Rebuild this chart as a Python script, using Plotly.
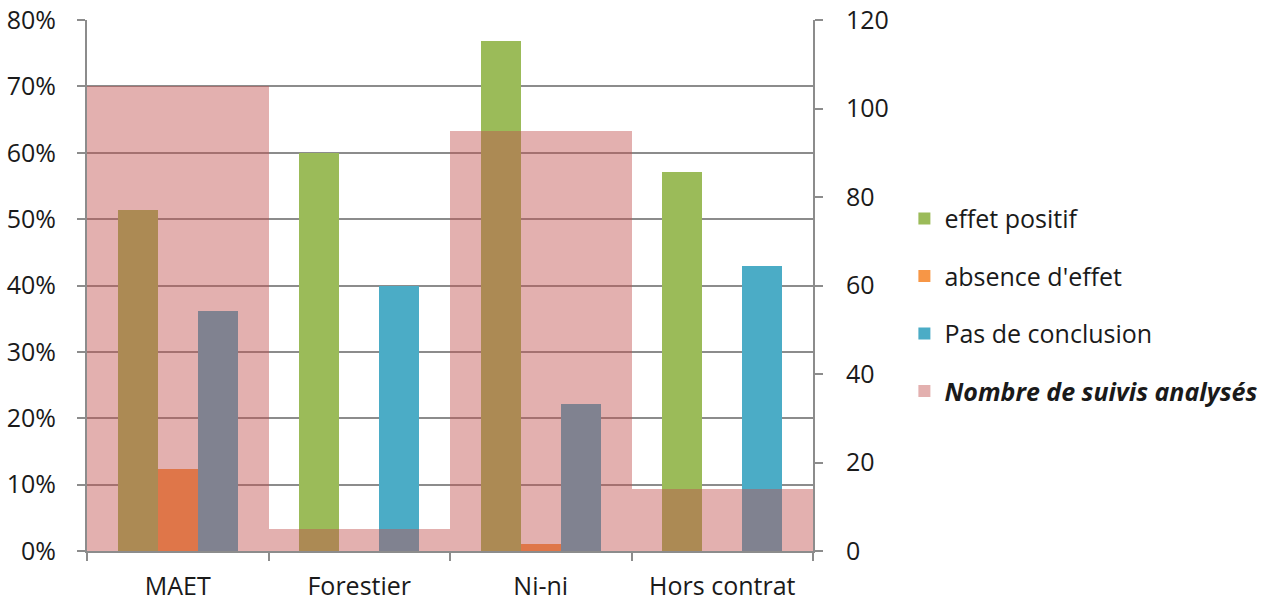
import plotly.graph_objects as go

categories = ["MAET", "Forestier", "Ni-ni", "Hors contrat"]
effet_positif = [0.514, 0.60, 0.768, 0.571]
absence_effet = [0.124, 0.0, 0.0105, 0.0]
pas_conclusion = [0.362, 0.40, 0.221, 0.429]
nombre_suivis = [105, 5, 95, 14]

FONT = "Open Sans"
TXT = "#1a1a1a"
GRID = "#8c8c8c"
FS = 25

fig = go.Figure()
bw = 0.22
series = [
    ("effet positif", effet_positif, "#9BBB59", -0.33),
    ("absence d'effet", absence_effet, "#F79646", -0.11),
    ("Pas de conclusion", pas_conclusion, "#4BACC6", 0.11),
]
for i, (name, vals, col, off) in enumerate(series):
    fig.add_trace(go.Bar(
        x=categories, y=vals, name=name, marker=dict(color=col, line=dict(width=0)),
        width=bw, offset=off, legendgroup=f"g{i}", yaxis="y",
    ))

fig.add_trace(go.Bar(
    x=categories, y=nombre_suivis, name="<b><i>Nombre de suivis analysés</i></b>",
    marker=dict(color="rgba(192,80,77,0.45)", line=dict(width=0)),
    width=1.0, offset=-0.5, legendgroup="g3", yaxis="y2",
))

fig.update_layout(
    width=1272, height=601,
    barmode="overlay",
    plot_bgcolor="white", paper_bgcolor="white",
    margin=dict(l=87, r=459, t=20, b=50),
    font=dict(family=FONT, size=FS, color=TXT),
    xaxis=dict(
        type="category", range=[-0.5, 3.5], automargin=False,
        showline=True, linecolor=GRID, linewidth=2,
        ticks="outside", tickson="boundaries", ticklen=8, tickcolor=GRID, tickwidth=2,
        ticklabelstandoff=12,
        tickfont=dict(size=FS, color=TXT), showgrid=False,
    ),
    yaxis=dict(
        range=[0, 0.8], dtick=0.1, tickformat=".0%", automargin=False,
        showgrid=True, gridcolor=GRID, gridwidth=2,
        showline=True, linecolor=GRID, linewidth=2,
        ticks="outside", ticklen=8, tickcolor=GRID, tickwidth=2,
        ticklabelstandoff=16,
        tickfont=dict(size=FS, color=TXT), zeroline=False,
    ),
    yaxis2=dict(
        overlaying="y", side="right", range=[0, 120], dtick=20, automargin=False,
        showgrid=False, showline=True, linecolor=GRID, linewidth=2,
        ticks="outside", ticklen=8, tickcolor=GRID, tickwidth=2,
        ticklabelstandoff=18,
        tickfont=dict(size=FS, color=TXT), zeroline=False,
    ),
    legend=dict(
        xref="container", yref="container",
        x=0.711, y=0.493, xanchor="left", yanchor="middle",
        traceorder="grouped", tracegroupgap=22,
        font=dict(size=FS, color=TXT), bgcolor="rgba(0,0,0,0)",
        itemwidth=30,
    ),
    bargap=0,
)

fig.write_html(
    "out.html",
    config={"displayModeBar": False},
    post_script="document.body.style.margin='0';document.body.style.overflow='hidden';",
)
